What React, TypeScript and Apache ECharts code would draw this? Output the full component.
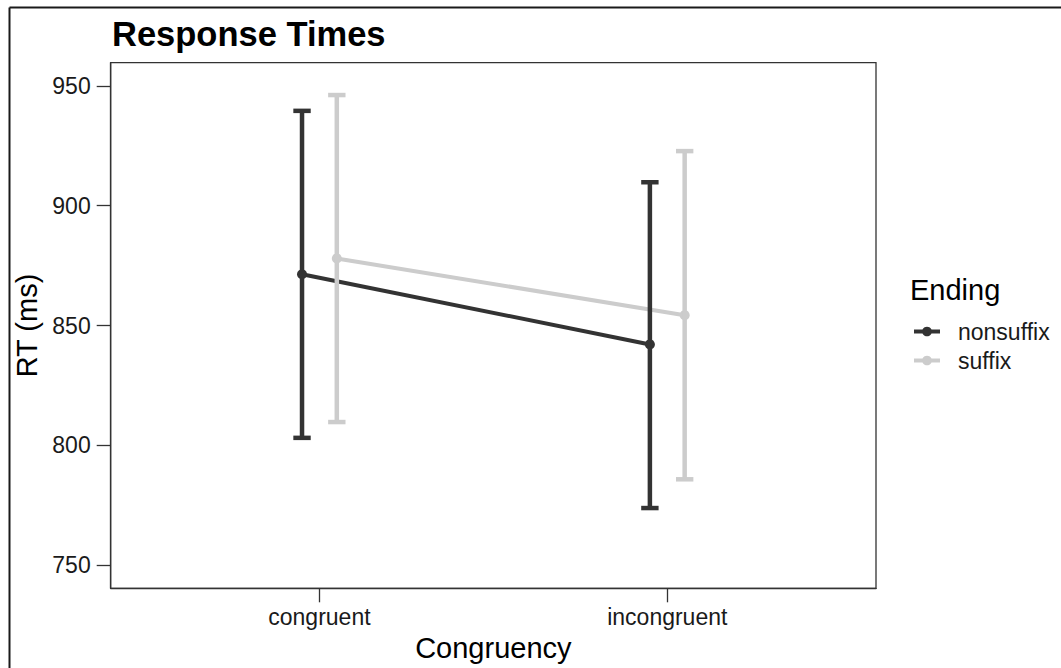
import React, { useEffect, useRef } from "react";
import * as echarts from "echarts";

const categories = ["congruent", "incongruent"];
const groups = ["nonsuffix", "suffix"];
const nonsuffixMean = [871.4, 842.1];
const nonsuffixLow = [803.1, 773.8];
const nonsuffixHigh = [939.6, 909.8];
const suffixMean = [878.0, 854.3];
const suffixLow = [809.7, 785.8];
const suffixHigh = [946.2, 922.8];
const yTicks = [750, 800, 850, 900, 950];
const dodge = [-0.05, 0.05];
const colors = ["#333333", "#cccccc"];

const FONT = "'Liberation Sans', Arial, Helvetica, sans-serif";

export default function App() {
  const ref = useRef<HTMLDivElement>(null);
  useEffect(() => {
    if (!ref.current) return;
    const chart = echarts.init(ref.current, undefined, { renderer: "svg" });
    const means = [nonsuffixMean, suffixMean];
    const lows = [nonsuffixLow, suffixLow];
    const highs = [nonsuffixHigh, suffixHigh];

    const lineSeries = groups.map((g, gi) => ({
      name: g,
      type: "line",
      data: categories.map((_, ci) => [ci + 1 + dodge[gi], means[gi][ci]]),
      symbol: "circle",
      symbolSize: 10,
      lineStyle: { color: colors[gi], width: 4 },
      itemStyle: { color: colors[gi] },
      z: 2,
    }));

    const errSeries = groups.map((g, gi) => ({
      name: g,
      type: "custom",
      data: categories.map((_, ci) => [ci + 1 + dodge[gi], lows[gi][ci], highs[gi][ci]]),
      z: 3 + gi,
      renderItem: (params: any, api: any) => {
        const x = api.value(0);
        const lo = api.coord([x, api.value(1)]);
        const hi = api.coord([x, api.value(2)]);
        const hw = api.size([0.05, 0])[0] / 2;
        const style = { stroke: colors[gi], lineWidth: 4.5, fill: "none" };
        return {
          type: "group",
          children: [
            { type: "line", shape: { x1: lo[0], y1: lo[1], x2: hi[0], y2: hi[1] }, style },
            { type: "line", shape: { x1: lo[0] - hw, y1: lo[1], x2: lo[0] + hw, y2: lo[1] }, style },
            { type: "line", shape: { x1: hi[0] - hw, y1: hi[1], x2: hi[0] + hw, y2: hi[1] }, style },
          ],
        };
      },
    }));

    const axisLineStyle = { color: "#333333", width: 1.3 };

    chart.setOption({
      animation: false,
      backgroundColor: "#ffffff",
      textStyle: { fontFamily: FONT },
      title: [
        {
          text: "Response Times",
          left: 107,
          top: 11,
          textStyle: { fontFamily: FONT, fontSize: 34.5, fontWeight: "bold", color: "#000000" },
        },
        {
          text: "Ending",
          left: 905,
          top: 270,
          textStyle: { fontFamily: FONT, fontSize: 29, fontWeight: "normal", color: "#000000" },
        },
      ],
      legend: {
        data: groups,
        orient: "vertical",
        left: 907,
        top: 315,
        itemWidth: 26,
        itemHeight: 12,
        itemGap: 6,
        lineStyle: { width: 4 },
        textStyle: { fontFamily: FONT, fontSize: 23, color: "#1a1a1a", padding: [0, 0, 0, 13] },
      },
      grid: {
        left: 110.7,
        right: 185,
        top: 62.7,
        bottom: 79.7,
        show: true,
        borderColor: "#333333",
        borderWidth: 1.3,
        backgroundColor: "transparent",
      },
      xAxis: {
        type: "value",
        min: 0.4,
        max: 2.6,
        name: "Congruency",
        nameLocation: "middle",
        nameGap: 44,
        nameTextStyle: { fontFamily: FONT, fontSize: 29, color: "#000000" },
        axisLine: { show: true, lineStyle: axisLineStyle },
        axisTick: { show: true, length: 14, lineStyle: axisLineStyle, customValues: [1, 2] },
        axisLabel: {
          customValues: [1, 2],
          margin: 17,
          fontFamily: FONT,
          fontSize: 23,
          color: "#1a1a1a",
          formatter: (v: number) => categories[Math.round(v) - 1] ?? "",
        },
        splitLine: { show: false },
      },
      yAxis: {
        type: "value",
        min: 740.3,
        max: 959.7,
        name: "RT (ms)",
        nameLocation: "middle",
        nameGap: 64,
        nameTextStyle: { fontFamily: FONT, fontSize: 29, color: "#000000" },
        axisLine: { show: true, lineStyle: axisLineStyle },
        axisTick: { show: true, length: 14, lineStyle: axisLineStyle, customValues: yTicks },
        axisLabel: {
          customValues: yTicks,
          margin: 20,
          fontFamily: FONT,
          fontSize: 23,
          color: "#1a1a1a",
        },
        splitLine: { show: false },
      },
      graphic: [
        {
          type: "line",
          shape: { x1: 9.5, y1: 7.5, x2: 9.5, y2: 668 },
          style: { stroke: "#1a1a1a", lineWidth: 2 },
        },
        {
          type: "line",
          shape: { x1: 9.5, y1: 7.5, x2: 1061, y2: 7.5 },
          style: { stroke: "#1a1a1a", lineWidth: 2 },
        },
      ],
      series: [...lineSeries, ...errSeries],
    });
    return () => chart.dispose();
  }, []);
  return (
    <div
      ref={ref}
      style={{ position: "fixed", left: 0, top: 0, width: 1061, height: 668, background: "#fff" }}
    />
  );
}
